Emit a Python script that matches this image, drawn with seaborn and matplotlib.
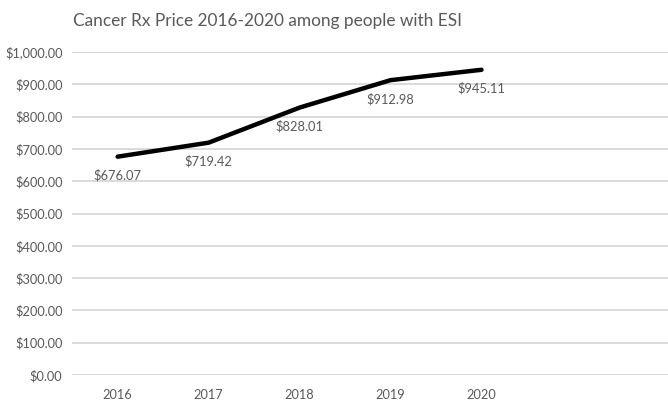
import matplotlib
matplotlib.use("Agg")
import matplotlib.pyplot as plt
import seaborn as sns
import pandas as pd

# chart values
years = ["2016", "2017", "2018", "2019", "2020"]
prices = [676.07, 719.42, 828.01, 912.98, 945.11]
y_ticks = [0, 100, 200, 300, 400, 500, 600, 700, 800, 900, 1000]

data = pd.DataFrame({"year": years, "price": prices})

sns.set_style("white")
plt.rcParams["font.family"] = ["Lato", "DejaVu Sans"]

text_color = "#595959"

fig = plt.figure(figsize=(6.68, 4.07), dpi=100)
ax = fig.add_axes([0.108, 0.0786, 0.892, 0.7935])

sns.lineplot(data=data, x="year", y="price", color="black", linewidth=3.2, ax=ax)

# data labels below each point
for i, (yr, p) in enumerate(zip(years, prices)):
    ax.annotate(f"${p:,.2f}", xy=(i, p), xytext=(0, -9), textcoords="offset points",
                ha="center", va="top", fontsize=9.3, color=text_color)

ax.set_ylim(0, 1000)
ax.set_xlim(-0.5, 6.05)
ax.set_yticks(y_ticks)
ax.set_yticklabels([f"${v:,.2f}" for v in y_ticks])
ax.set_xticks(range(len(years)))
ax.set_xticklabels(years)
ax.tick_params(axis="both", length=0, labelsize=9.2, labelcolor=text_color)
ax.tick_params(axis="x", pad=10)
ax.tick_params(axis="y", pad=7)
ax.grid(axis="y", color="#d4d4d4", linewidth=1.2)
ax.set_axisbelow(True)
for s in ax.spines.values():
    s.set_visible(False)
ax.set_xlabel("")
ax.set_ylabel("")

fig.text(0.40, 0.948, "Cancer Rx Price 2016-2020 among people with ESI",
         ha="center", va="center", fontsize=12.4, color=text_color)

fig.savefig("out.png", dpi=100)
